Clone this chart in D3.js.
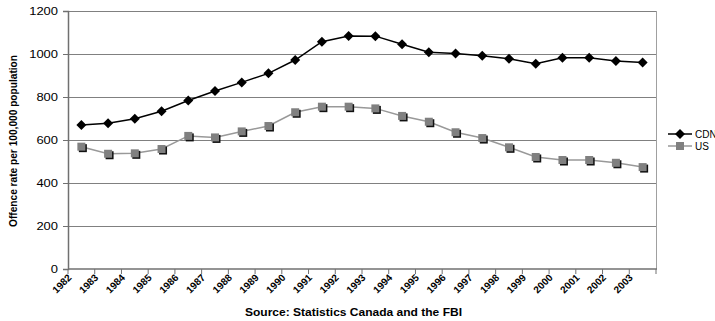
<!DOCTYPE html>
<html>
<head>
<meta charset="utf-8">
<script src="https://cdn.jsdelivr.net/npm/d3@7"></script>
<style>
  html, body { margin: 0; padding: 0; background: #fff; }
  svg { display: block; font-family: "Liberation Sans", Arial, sans-serif; }
</style>
</head>
<body>
<svg id="chart" width="715" height="321"></svg>
<script>
// Offence rates per 100,000 population, 1982-2003
const years = ["1982","1983","1984","1985","1986","1987","1988","1989","1990","1991","1992",
               "1993","1994","1995","1996","1997","1998","1999","2000","2001","2002","2003"];
const cdnValues = [670, 678, 699, 734, 784, 828, 868, 910, 972, 1057, 1084,
                   1083, 1045, 1008, 1002, 992, 978, 955, 983, 983, 967, 960];
const usValues = [569, 536, 538, 558, 619, 612, 640, 665, 729, 755, 755,
                  747, 712, 685, 636, 609, 566, 521, 507, 507, 494, 474];
const yTicks = [0, 200, 400, 600, 800, 1000, 1200];
const seriesNames = ["CDN", "US"];

const svg = d3.select("#chart");
const plotL = 68, plotR = 656, plotT = 11, plotB = 269;

const x = d3.scaleBand().domain(years).range([plotL, plotR]).padding(0);
const y = d3.scaleLinear().domain([0, 1200]).range([plotB, plotT]);
const cx = d => x(d) + x.bandwidth() / 2;

// horizontal gridlines
svg.append("g").selectAll("line").data(yTicks.filter(v => v > 0)).join("line")
  .attr("x1", plotL).attr("x2", plotR)
  .attr("y1", d => y(d)).attr("y2", d => y(d))
  .attr("stroke", "#808080").attr("stroke-width", 1).attr("shape-rendering", "crispEdges");

// right frame edge
svg.append("line").attr("x1", plotR + 0.5).attr("x2", plotR + 0.5)
  .attr("y1", plotT).attr("y2", plotB)
  .attr("stroke", "#a0a0a0").attr("stroke-width", 1);

// y axis (labels are drawn slightly wide)
const yAxis = svg.append("g").attr("transform", `translate(${plotL},0)`)
  .call(d3.axisLeft(y).tickValues(yTicks).tickFormat(d3.format("d")).tickSize(5).tickPadding(5));
yAxis.select(".domain").attr("stroke", "#707070").attr("stroke-width", 1.5);
yAxis.selectAll(".tick line").attr("stroke", "#707070");
yAxis.selectAll(".tick text").attr("font-size", 10).attr("fill", "#000")
  .attr("font-family", "Liberation Sans, Arial, sans-serif")
  .attr("textLength", d => String(d).length * 7.2).attr("lengthAdjust", "spacingAndGlyphs");

// x axis: ticks on category boundaries
const xAxisG = svg.append("g").attr("transform", `translate(0,${plotB})`);
xAxisG.append("line").attr("x1", plotL).attr("x2", plotR + 1)
  .attr("y1", 0).attr("y2", 0).attr("stroke", "#707070").attr("stroke-width", 1.5);
const boundaries = years.map(d => x(d)).concat([plotR]);
xAxisG.selectAll("line.tk").data(boundaries).join("line").attr("class", "tk")
  .attr("x1", d => d).attr("x2", d => d).attr("y1", 0).attr("y2", 5)
  .attr("stroke", "#707070");
xAxisG.selectAll("text").data(years).join("text")
  .attr("transform", d => `translate(${x(d)},5) rotate(-45)`)
  .attr("text-anchor", "end").attr("dy", "0.6em")
  .attr("font-size", 10).attr("font-weight", "bold").attr("fill", "#000")
  .text(d => d);

// series lines
const line = d3.line().x((v, i) => cx(years[i])).y(v => y(v));
svg.append("path").datum(usValues).attr("d", line)
  .attr("fill", "none").attr("stroke", "#999999").attr("stroke-width", 1.5);
svg.append("path").datum(cdnValues).attr("d", line)
  .attr("fill", "none").attr("stroke", "#000").attr("stroke-width", 1.5);

// US square markers with shadow
const sq = 8;
const usG = svg.append("g");
usG.selectAll("rect.sh").data(usValues).join("rect").attr("class", "sh")
  .attr("x", (v, i) => cx(years[i]) - sq / 2 + 1.5).attr("y", v => y(v) - sq / 2 + 1.5)
  .attr("width", sq).attr("height", sq).attr("fill", "#111");
usG.selectAll("rect.mk").data(usValues).join("rect").attr("class", "mk")
  .attr("x", (v, i) => cx(years[i]) - sq / 2).attr("y", v => y(v) - sq / 2)
  .attr("width", sq).attr("height", sq).attr("fill", "#808080");

// CDN diamond markers
const diamond = (px, py) => `M${px},${py - 5}L${px + 5},${py}L${px},${py + 5}L${px - 5},${py}Z`;
svg.append("g").selectAll("path").data(cdnValues).join("path")
  .attr("d", (v, i) => diamond(cx(years[i]), y(v))).attr("fill", "#000");

// legend
const legend = svg.append("g");
const legY = [134, 146];
legend.append("line").attr("x1", 668).attr("x2", 692).attr("y1", legY[0]).attr("y2", legY[0])
  .attr("stroke", "#000").attr("stroke-width", 1.5);
legend.append("path").attr("d", diamond(680, legY[0])).attr("fill", "#000");
legend.append("line").attr("x1", 668).attr("x2", 692).attr("y1", legY[1]).attr("y2", legY[1])
  .attr("stroke", "#999999").attr("stroke-width", 1.5);
legend.append("rect").attr("x", 676).attr("y", legY[1] - 4).attr("width", 8).attr("height", 8)
  .attr("fill", "#808080");
legend.selectAll("text").data(seriesNames).join("text")
  .attr("x", 695).attr("y", (d, i) => legY[i]).attr("dy", "0.35em")
  .attr("font-size", 10).attr("fill", "#000").text(d => d);

// axis titles
svg.append("text").attr("transform", `translate(17,141) rotate(-90)`)
  .attr("text-anchor", "middle").attr("font-size", 10.5).attr("font-weight", "bold")
  .attr("textLength", 172).attr("lengthAdjust", "spacingAndGlyphs")
  .text("Offence rate per 100,000 population");
svg.append("text").attr("x", 353.5).attr("y", 315.5).attr("text-anchor", "middle")
  .attr("font-size", 10.5).attr("font-weight", "bold")
  .attr("textLength", 217).attr("lengthAdjust", "spacingAndGlyphs")
  .text("Source: Statistics Canada and the FBI");
</script>
</body>
</html>
